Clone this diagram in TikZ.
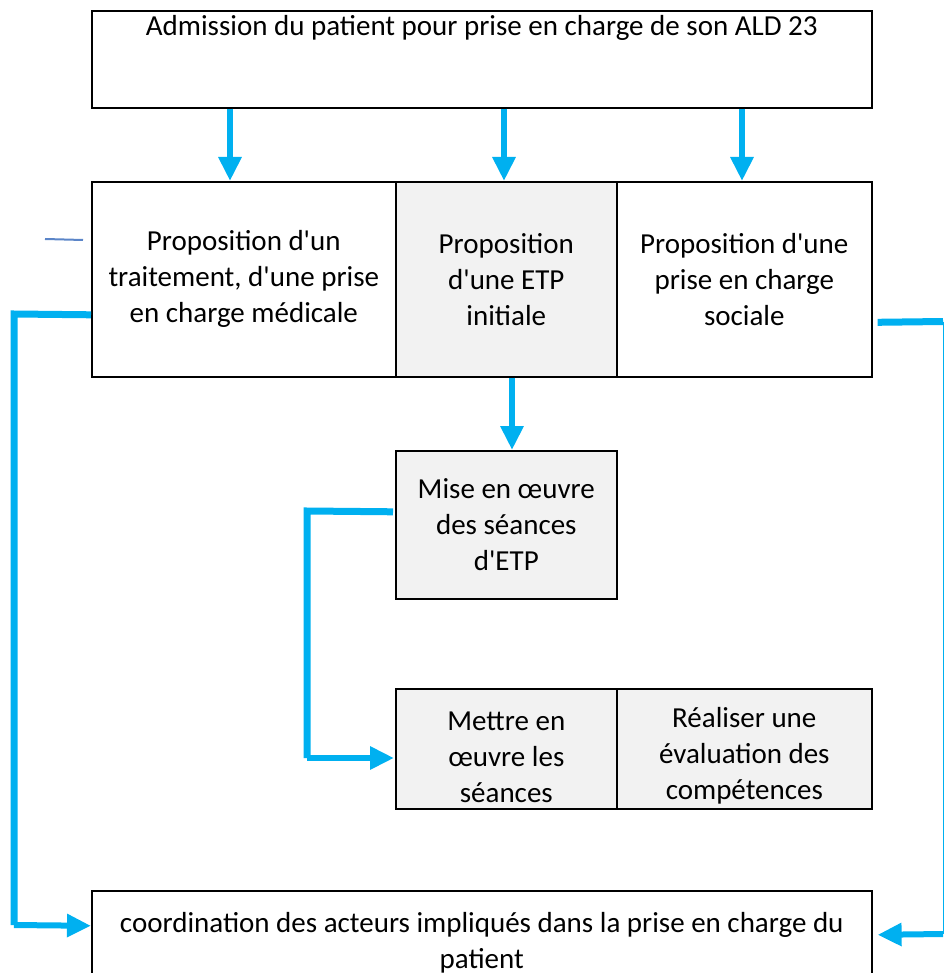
\documentclass[tikz,border=0pt]{standalone}
\usepackage{fontspec}
\setmainfont{Carlito}[Ligatures=TeXOff]
\usetikzlibrary{arrows.meta}
\definecolor{arrblue}{HTML}{00B0F0}
\definecolor{cellgray}{HTML}{F2F2F2}
\definecolor{dashblue}{HTML}{5B85C8}
\newcommand{\upstrut}{\rule{0pt}{35pt}}
\begin{document}
\begin{tikzpicture}[x=1pt,y=-1pt,
  txt/.style={font=\fontsize{29}{36}\selectfont},
  box/.style={draw=black,line width=1.6pt,anchor=north west,inner sep=0pt,align=center,txt},
  arr/.style={draw=arrblue,line width=6pt,-{Triangle[length=24pt,width=22pt]}},
  conn/.style={draw=arrblue,line width=7pt,line join=miter},
  thin/.style={draw=arrblue,line width=1pt}]
\useasboundingbox (0,0) rectangle (944,973);
\node[box,minimum width=780pt,minimum height=97pt,label={[anchor=north,txt,yshift=-2pt]north:Admission du patient pour prise en charge de son ALD 23}] (T) at (91,10) {};
\node[box,minimum width=304pt,minimum height=195pt] (L) at (91,181) {Proposition d'un\\traitement, d'une prise\\en charge médicale};
\node[box,fill=cellgray,minimum width=221pt,minimum height=195pt] (M) at (395,181) {Proposition\\d'une ETP\\initiale};
\node[box,minimum width=255pt,minimum height=195pt] (R) at (616,181) {Proposition d'une\\prise en charge\\sociale};
\node[box,fill=cellgray,minimum width=221pt,minimum height=148pt] (E) at (395,450) {Mise en œuvre\\des séances\\d'ETP};
\node[box,fill=cellgray,minimum width=221pt,minimum height=120pt] (S) at (395,688) {\upstrut Mettre en\\œuvre les\\séances};
\node[box,fill=cellgray,minimum width=255pt,minimum height=120pt] (V) at (616,688) {\upstrut Réaliser une\\évaluation des\\compétences};
\node[box,minimum width=780pt,minimum height=103pt] (B) at (91,890) {coordination des acteurs impliqués dans la prise en charge du\\patient};
% down arrows
\draw[arr] (T.south -| 230,0) -- (L.north -| 230,0);
\draw[arr] (T.south -| 504,0) -- (M.north -| 504,0);
\draw[arr] (T.south -| 742,0) -- (R.north -| 742,0);
\draw[arr] (M.south -| 512,0) -- (E.north -| 512,0);
% left connector
\draw[conn] ([yshift=-35.5pt]L.west) -- (14,314) -- (14,925);
\draw[arr] (14,925) -- ([yshift=16.5pt]B.west);
% ETP connector
\draw[conn] ([yshift=13pt,xshift=-2pt]E.west) -- (307,511) -- (307,758);
\draw[arr] (307,758) -- ([xshift=-1pt]S.west |- 0,758);
% right connector
\coordinate (rc) at (943,321.5);
\coordinate (rd) at (943,934);
\draw[draw=arrblue,line width=7pt] ([yshift=-43pt,xshift=5pt]R.east) -- (rc);
\draw[thin] (rc) -- (rd);
\draw[arr] (rd) -- ([xshift=5pt,yshift=7.5pt]B.east);
% small dash
\coordinate (d1) at (45,239);
\coordinate (d2) at (83,240);
\draw[draw=dashblue,line width=2pt] (d1) -- (d2);
\end{tikzpicture}
\end{document}
